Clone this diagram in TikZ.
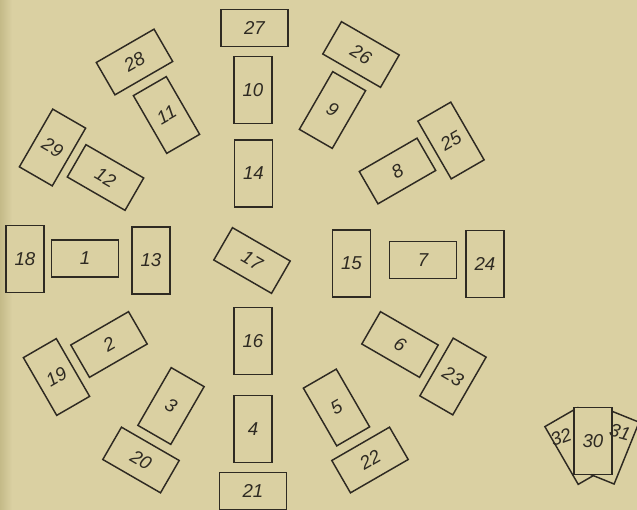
\documentclass[tikz,border=0pt]{standalone}
\usepackage{fontspec}
\usepackage{tikz}
\newfontfamily\cardfont{Liberation Sans}
\definecolor{PaperTan}{HTML}{DAD0A2}
\definecolor{PaperEdge}{HTML}{C4BA88}
\definecolor{InkBrown}{HTML}{2E2A22}
\tikzset{
  card/.style={draw=InkBrown, fill=PaperTan, line width=1.1pt, inner sep=0pt,
    text=InkBrown, font=\cardfont\itshape\fontsize{14}{14}\selectfont},
  vcard/.style={card, minimum width=28.5pt, minimum height=50pt},
  hcard/.style={card, minimum width=50pt, minimum height=28pt},
  cardnum/.style={text=InkBrown, inner sep=0pt, font=\cardfont\itshape\fontsize{14}{14}\selectfont}
}

\begin{document}
\begin{tikzpicture}[x=0.75pt, y=-0.75pt]
  \fill[PaperTan] (0,0) rectangle (637,510);
  \shade[left color=PaperEdge, right color=PaperTan] (0,0) rectangle (12,510);
  \useasboundingbox (0,0) rectangle (637,510);
  % cards standing upright
  \foreach \n/\x/\y/\a in {10/253/90/0, 14/253.5/173.5/0, 16/253/341/0, 4/253/429/0,
      13/151/260.5/0, 18/25/259/0, 15/351.5/263.5/0, 24/485/264/0,
      11/166.5/115/30, 29/52.5/147.5/-30, 19/56.5/377/30, 3/171/406/-30,
      5/336.5/407.5/30, 23/453/376.5/-30, 25/451/140.5/30, 9/332.5/110/-30}
    {\node[vcard, rotate=\a] (c\n) at (\x,\y) {\n};}
  % cards lying across
  \foreach \n/\x/\y/\a in {27/254.5/28/0, 21/253/491/0, 1/85/258.5/0, 7/423/260/0,
      17/252/260.5/-30, 28/134.5/62/30, 12/105.5/177.5/-30, 2/109/344.5/30,
      20/141/460/-30, 22/370/460/30, 6/400/344.5/-30, 8/397.5/171/30, 26/361/54.5/-30}
    {\node[hcard, rotate=\a] (c\n) at (\x,\y) {\n};}
  % the fan of three
  \node[vcard, rotate=30] (c32) at (578,446) {};
  \node[vcard, rotate=-22] (c31) at (609,446) {};
  \node[vcard] (c30) at (593,441) {30};
  \node[cardnum, rotate=20] (n32) at (561,437) {32};
  \node[cardnum, rotate=-15] (n31) at (620,432) {31};
\end{tikzpicture}
\end{document}
